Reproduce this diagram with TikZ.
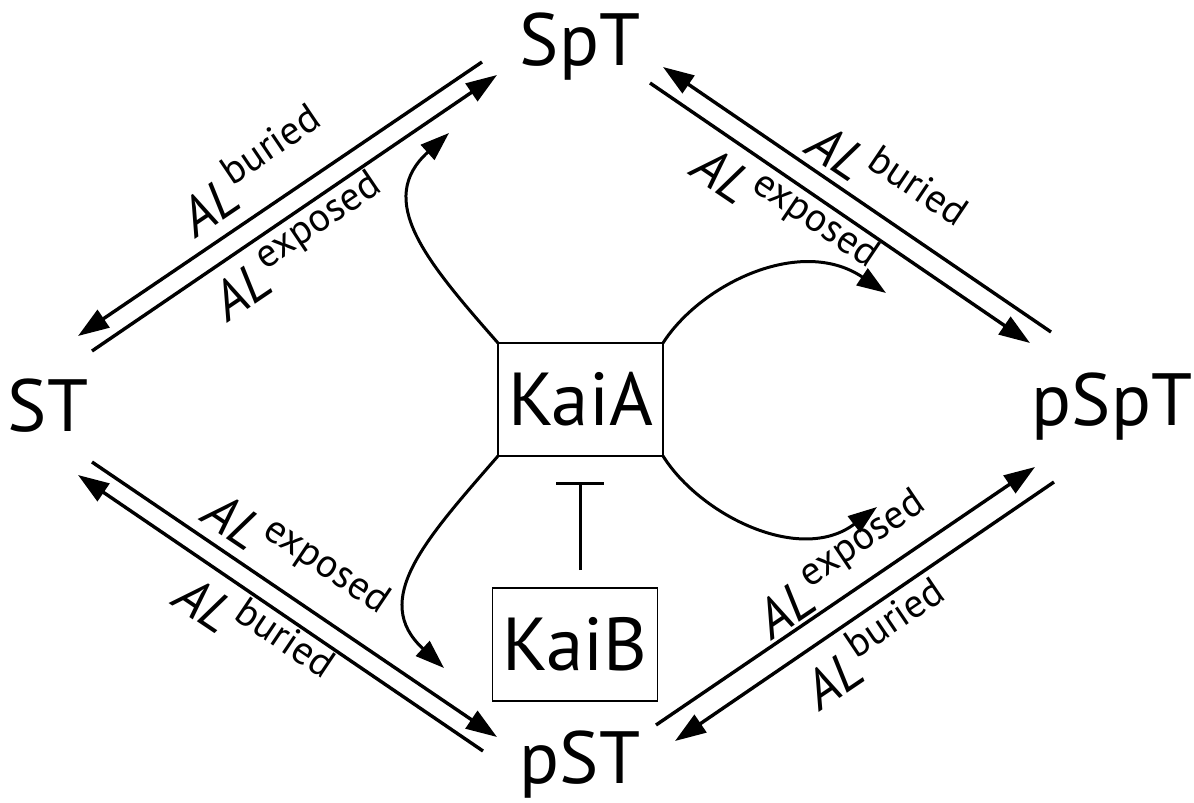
\documentclass[tikz,border=0pt]{standalone}
\usepackage{fontspec}
\setmainfont{PT Sans}
\usetikzlibrary{arrows.meta}
\begin{document}
\begin{tikzpicture}[x=1pt,y=-1pt,
  species/.style={inner sep=0pt, outer sep=0pt, anchor=base, font=\fontsize{74}{80}\selectfont},
  kaibox/.style={draw, line width=1.8pt, inner sep=0pt, outer sep=0pt,
                 minimum width=165pt, minimum height=113pt, font=\fontsize{75}{80}\selectfont},
  reaction/.style={line width=3.4pt, -{Triangle[length=31pt,width=21pt]}},
  effect/.style={line width=3pt, -{Triangle[length=29pt,width=20pt]}},
  inhibit/.style={line width=3pt, -{Bar[width=48pt,line width=3pt]}},
  rate/.style={inner sep=0pt, outer sep=0pt, font=\fontsize{54}{58}\selectfont},
]
\useasboundingbox[fill=white] (0,0) rectangle (1194,803);

% phosphorylation states
\node[species] (SpT)  at (580,65)  {SpT};
\node[species] (ST)   at (48,431)  {ST};
\node[species] (pSpT) at (1112,425) {pSpT};
\node[species] (pST)  at (580,783) {pST};

% regulators
\node[kaibox] (KaiA) at (580.5,399.5) {KaiA};
\node[kaibox] (KaiB) at (575,644.5)  {KaiB};

% end points of the paired transition arrows
\coordinate (ulB1) at (482,62);   \coordinate (ulB2) at (78,336);
\coordinate (ulX1) at (92,351);   \coordinate (ulX2) at (497,75);
\coordinate (urB1) at (1051,332); \coordinate (urB2) at (663,67);
\coordinate (urX1) at (650,83);   \coordinate (urX2) at (1030,343);
\coordinate (llX1) at (92,462);   \coordinate (llX2) at (497,737);
\coordinate (llB1) at (483,751);  \coordinate (llB2) at (78,475);
\coordinate (lrX1) at (656,725);  \coordinate (lrX2) at (1035,467);
\coordinate (lrB1) at (1054,482); \coordinate (lrB2) at (675,741);

\draw[reaction] (ulB1) -- (ulB2);
\draw[reaction] (ulX1) -- (ulX2);
\draw[reaction] (urB1) -- (urB2);
\draw[reaction] (urX1) -- (urX2);
\draw[reaction] (llX1) -- (llX2);
\draw[reaction] (llB1) -- (llB2);
\draw[reaction] (lrX1) -- (lrX2);
\draw[reaction] (lrB1) -- (lrB2);

% rate labels
\newcommand{\alstate}[1]{{\itshape AL}\hspace{3pt}\raisebox{23pt}{\fontsize{40}{42}\selectfont #1}}
\node[rate, rotate=34]  (ulBl) at (252,170) {\alstate{buried}};
\node[rate, rotate=34]  (ulXl) at (298,245) {\alstate{exposed}};
\node[rate, rotate=-34] (urBl) at (888,178) {\alstate{buried}};
\node[rate, rotate=-34] (urXl) at (786,210) {\alstate{exposed}};
\node[rate, rotate=-34] (llXl) at (297,556) {\alstate{exposed}};
\node[rate, rotate=-34] (llBl) at (255,630) {\alstate{buried}};
\node[rate, rotate=34]  (lrXl) at (842,563) {\alstate{exposed}};
\node[rate, rotate=34]  (lrBl) at (876,643) {\alstate{buried}};

% KaiA effects
\coordinate (tUL) at (449,133);
\coordinate (tUR) at (886,293);
\coordinate (tLR) at (877,507);
\coordinate (tLL) at (444,668);
\draw[effect] (KaiA.north west) .. controls (425,260) and (375,200) .. (tUL);
\draw[effect] (KaiA.north east) .. controls (700,285) and (800,235) .. (tUR);
\draw[effect] (KaiA.south east) .. controls (700,515) and (800,565) .. (tLR);
\draw[effect] (KaiA.south west) .. controls (425,540) and (370,600) .. (tLL);

% KaiB inhibits KaiA
\coordinate (inhS) at (580,570);
\coordinate (inhE) at (580,482);
\draw[inhibit] (inhS) -- (inhE);
\end{tikzpicture}
\end{document}
